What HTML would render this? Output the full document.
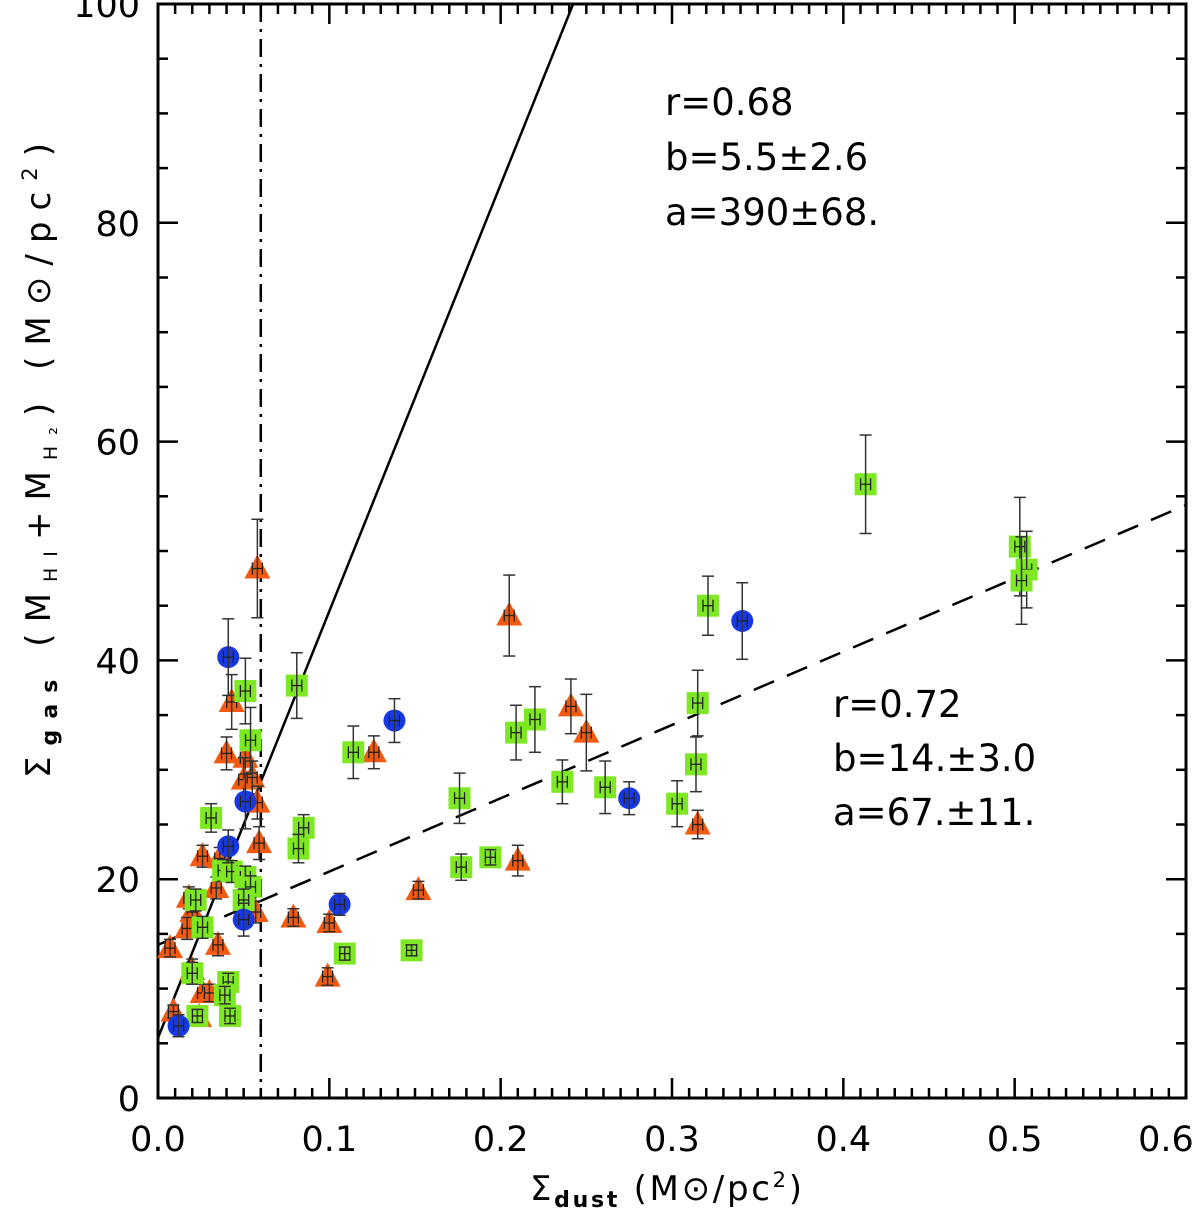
<!DOCTYPE html>
<html><head><meta charset="utf-8"><style>
html,body{margin:0;padding:0;background:#fff;}
svg{display:block;font-family:"DejaVu Sans","Liberation Sans",sans-serif;}
</style></head><body>
<svg id="chart" width="1200" height="1215" viewBox="0 0 1200 1215" xmlns="http://www.w3.org/2000/svg">
<g id="grid"></g>
<g id="lines"></g>
<g id="marks"></g>
<g font-size="37" fill="#000">
<text x="665" y="115">r=0.68</text>
<text x="665" y="170">b=5.5±2.6</text>
<text x="665" y="225">a=390±68.</text>
</g>
<g font-size="37" fill="#000">
<text x="833" y="717">r=0.72</text>
<text x="833" y="771">b=14.±3.0</text>
<text x="833" y="825">a=67.±11.</text>
</g>
<text x="530" y="1200" font-size="34" textLength="272" lengthAdjust="spacing">Σ<tspan font-size="22" dy="7" font-weight="bold">dust</tspan><tspan dy="-7">  (M⊙/pc</tspan><tspan font-size="21" dy="-13">2</tspan><tspan dy="13">)</tspan></text>
<text transform="translate(50,778) rotate(-90)" font-size="34" textLength="635" lengthAdjust="spacing">Σ<tspan font-size="22" dy="7" font-weight="bold">gas</tspan><tspan dy="-7">  (M</tspan><tspan font-size="19" dy="7">HI</tspan><tspan dy="-7">+M</tspan><tspan font-size="19" dy="7">H₂</tspan><tspan dy="-7">)  (M⊙/pc</tspan><tspan font-size="21" dy="-13">2</tspan><tspan dy="13">)</tspan></text>
</svg>
<script>
const blueX=[0.041,0.051,0.041,0.050,0.012,0.106,0.138,0.275,0.341];
const blueY=[40.3,27.1,23.0,16.3,6.6,17.7,34.5,27.4,43.6];
const blueErr=[3.5,2.5,1.5,1.5,1.0,1.0,2.0,1.5,3.5];
const greenX=[0.051,0.081,0.054,0.031,0.085,0.082,0.038,0.043,0.051,0.054,0.022,0.050,0.026,0.020,0.041,0.039,0.023,0.042,0.114,0.209,0.220,0.321,0.315,0.314,0.303,0.176,0.236,0.261,0.177,0.194,0.109,0.148,0.413,0.503,0.507,0.504];
const greenY=[37.2,37.7,32.7,25.6,24.7,22.8,20.8,20.7,20.2,19.3,18.1,18.1,15.6,11.4,10.6,9.4,7.5,7.5,31.6,33.4,34.6,45.0,36.1,30.5,26.9,27.4,28.9,28.4,21.1,22.0,13.2,13.5,56.1,50.4,48.3,47.3];
const greenErr=[3,3,3,1.3,1.2,1.3,1,1,1,1,1,1,1,1,0.8,0.8,0.6,0.7,2.4,2.5,3,2.7,3,2.5,2.1,2.3,2,2.4,1.2,0.7,0.6,0.5,4.5,4.5,3.5,4];
const triX=[0.043,0.040,0.051,0.050,0.055,0.058,0.059,0.058,0.026,0.036,0.034,0.018,0.020,0.017,0.007,0.035,0.020,0.026,0.030,0.009,0.024,0.052,0.057,0.079,0.100,0.099,0.126,0.152,0.205,0.210,0.241,0.250,0.315];
const triY=[36.2,31.5,31.1,29.1,29.3,27.0,23.3,48.4,22.1,21.9,19.2,18.3,17.0,15.5,13.7,14.0,11.7,9.6,9.6,7.9,7.4,17.5,17.0,16.5,16.0,11.1,31.6,19.0,44.1,21.7,35.8,33.4,25.0];
const triErr=[2.5,1.5,2,2,1.5,1.5,1.5,4.5,1,1,1,1,1.5,1,0.8,1,1,0.8,0.8,0.6,0.6,1,1,0.8,0.8,0.8,1.5,0.8,3.7,1.4,2.5,3.5,1.3];
const xTicks=[0.0,0.1,0.2,0.3,0.4,0.5,0.6];
const xTickLabels=["0.0","0.1","0.2","0.3","0.4","0.5","0.6"];
const yTicks=[0,20,40,60,80,100];
const yTickLabels=["0","20","40","60","80","100"];
const fitSteep=[5.5,390];
const fitShallow=[14,67];
const dustCut=[0.06];

const NS="http://www.w3.org/2000/svg";
const L=158,R=1186,T=4,B=1098;
const X=v=>L+(R-L)*v/0.6;
const Y=v=>B-(B-T)*v/100;
function mk(tag,attrs,parent){const e=document.createElementNS(NS,tag);for(const k in attrs)e.setAttribute(k,attrs[k]);parent.appendChild(e);return e;}
const grid=document.getElementById('grid'),lines=document.getElementById('lines'),marks=document.getElementById('marks');

let fr=mk('rect',{x:L,y:T,width:R-L,height:B-T,fill:'none',stroke:'#000','stroke-width':3},grid);


for(let i=0;i<=60;i++){const v=i/100;const maj=i%10===0;const len=maj?20:10;
 mk('line',{x1:X(v),x2:X(v),y1:B,y2:B-len,stroke:'#000','stroke-width':2.5},grid);
 mk('line',{x1:X(v),x2:X(v),y1:T,y2:T+len,stroke:'#000','stroke-width':2.5},grid);}
xTicks.forEach((v,i)=>{const cx=Math.min(X(v),1166);const t=mk('text',{x:cx,y:1151,'text-anchor':'middle','font-size':35},grid);t.textContent=xTickLabels[i];
 
 });
for(let i=0;i<=20;i++){const v=i*5;const maj=i%4===0;const len=maj?20:10;
 mk('line',{x1:L,x2:L+len,y1:Y(v),y2:Y(v),stroke:'#000','stroke-width':2.5},grid);
 mk('line',{x1:R,x2:R-len,y1:Y(v),y2:Y(v),stroke:'#000','stroke-width':2.5},grid);}
yTicks.forEach((v,i)=>{const t=mk('text',{x:140,y:Y(v)+13,'text-anchor':'end','font-size':35},grid);t.textContent=yTickLabels[i];
 
 });

const defs=mk('defs',{},document.getElementById('chart'));
const cp=mk('clipPath',{id:'pc'},defs);mk('rect',{x:L,y:T,width:R-L,height:B-T},cp);
lines.setAttribute('clip-path','url(#pc)');
let l1=mk('line',{x1:X(0),y1:Y(fitSteep[0]),x2:X(0.6),y2:Y(fitSteep[0]+fitSteep[1]*0.6),stroke:'#000','stroke-width':2.5},lines);


let l2=mk('line',{x1:X(0),y1:Y(fitShallow[0]),x2:X(0.6),y2:Y(fitShallow[0]+fitShallow[1]*0.6),stroke:'#000','stroke-width':2.5,'stroke-dasharray':'22,14'},lines);


let l3=mk('line',{x1:X(dustCut[0]),y1:T,x2:X(dustCut[0]),y2:B,stroke:'#000','stroke-width':2.5,'stroke-dasharray':'18,7,3,7'},lines);



function errbar(x,y,e,g){const cx=X(x),y1=Y(y+e),y2=Y(y-e);
 mk('line',{x1:cx,x2:cx,y1:y1,y2:y2,stroke:'#333','stroke-width':1.5},g);
 mk('line',{x1:cx-6,x2:cx+6,y1:y1,y2:y1,stroke:'#333','stroke-width':1.5},g);
 mk('line',{x1:cx-6,x2:cx+6,y1:y2,y2:y2,stroke:'#333','stroke-width':1.5},g);
 mk('line',{x1:cx-5,x2:cx-5,y1:Y(y)-6,y2:Y(y)+6,stroke:'#222','stroke-width':1.3},g);
 mk('line',{x1:cx+5,x2:cx+5,y1:Y(y)-6,y2:Y(y)+6,stroke:'#222','stroke-width':1.3},g);
 mk('line',{x1:cx-5,x2:cx+5,y1:Y(y),y2:Y(y),stroke:'#222','stroke-width':1.3},g);}
triX.forEach((x,i)=>{const g=mk('g',{},marks);
 
 
 const cx=X(x),cy=Y(triY[i]);
 mk('polygon',{points:`${cx},${cy-14} ${cx-13},${cy+10} ${cx+13},${cy+10}`,fill:'#f25a12'},g);
 errbar(x,triY[i],triErr[i],g);});
greenX.forEach((x,i)=>{const g=mk('g',{},marks);
 
 
 const cx=X(x),cy=Y(greenY[i]);
 mk('rect',{x:cx-11,y:cy-11,width:22,height:22,fill:'#7ee823'},g);
 errbar(x,greenY[i],greenErr[i],g);});
blueX.forEach((x,i)=>{const g=mk('g',{},marks);
 
 
 mk('circle',{cx:X(x),cy:Y(blueY[i]),r:11,fill:'#1638e6'},g);
 errbar(x,blueY[i],blueErr[i],g);});
</script>
</body></html>
